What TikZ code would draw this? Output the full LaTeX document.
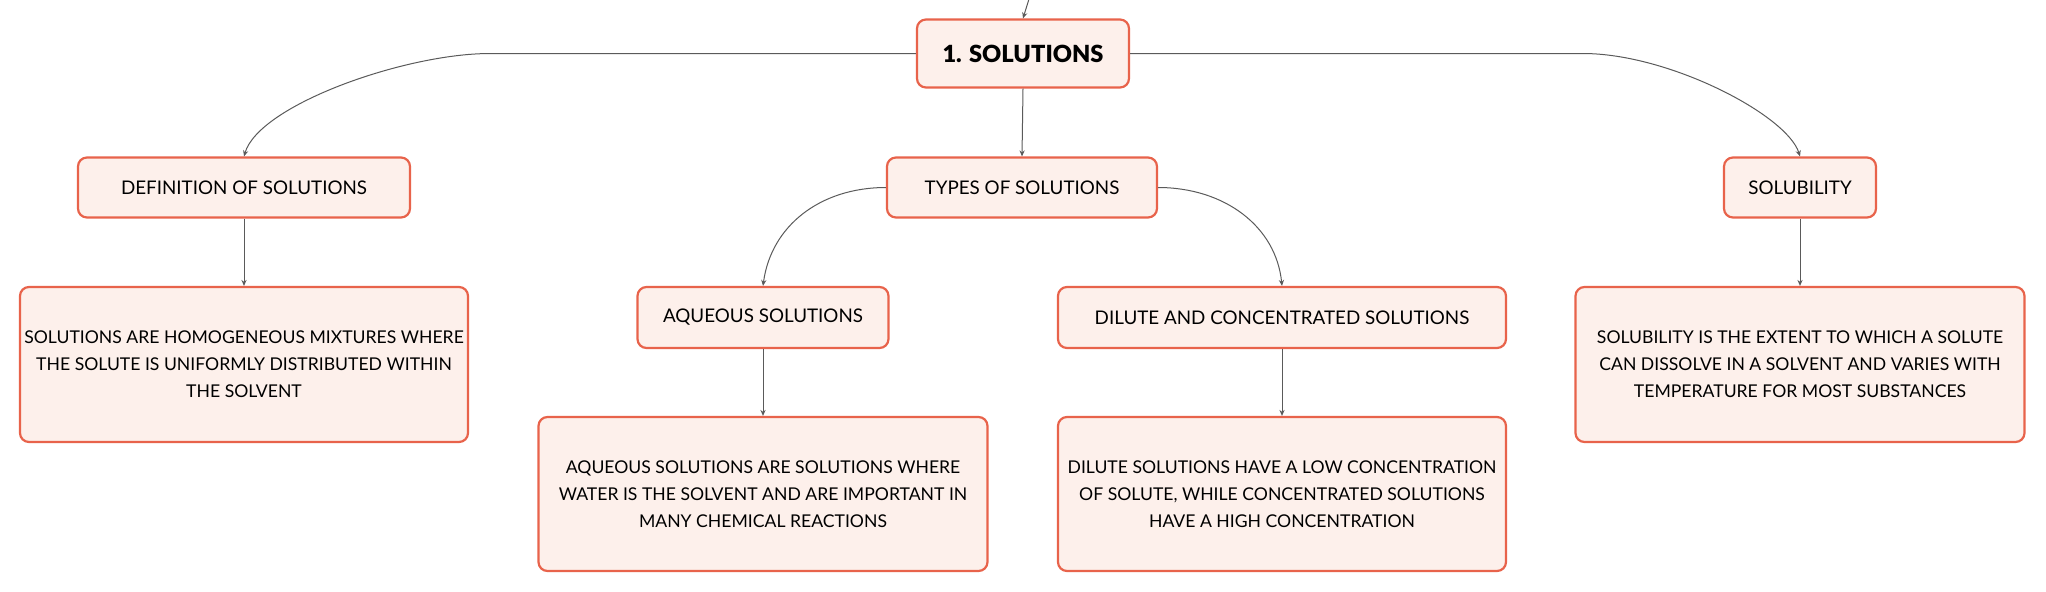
\documentclass[tikz,border=0pt]{standalone}
\usepackage{fontspec}
\setmainfont{Lato}
\newfontfamily\heavyfont{Lato Black}
\usetikzlibrary{arrows.meta}

\definecolor{boxline}{HTML}{E8634B}
\definecolor{boxfill}{HTML}{FDF0EB}
\definecolor{linkgray}{HTML}{5A5A5A}

\tikzset{
  box/.style={draw=boxline, fill=boxfill, line width=1.1pt, rounded corners=4.5pt,
    align=center, inner sep=0pt, font=\fontsize{9.4}{13.5}\selectfont},
  descbox/.style={box, font=\fontsize{8.8}{13.5}\selectfont},
  link/.style={draw=linkgray, line width=0.5pt, -{Stealth[length=3pt,width=2.6pt]}},
}

\begin{document}
\begin{tikzpicture}[x=0.5pt,y=-0.5pt]
    \useasboundingbox (0,0) rectangle (2046,591); % page frame

    % top level
    \node[box, minimum width=106pt, minimum height=34pt,
      font=\fontsize{11.8}{15}\heavyfont] (root) at (1023,53.5) {1. SOLUTIONS};
    \coordinate (up) at (1029,-1); % link from the parent above

    % second row
    \node[box, minimum width=166pt, minimum height=30pt] (defn) at (244,187.5) {DEFINITION OF SOLUTIONS};
    \node[box, minimum width=135pt, minimum height=30pt] (types) at (1022,187.5) {TYPES OF SOLUTIONS};
    \node[box, minimum width=76pt, minimum height=30pt] (solub) at (1800,187.5) {SOLUBILITY};

    % third row
    \node[descbox, minimum width=224pt, minimum height=77.5pt] (defndesc) at (244,364.5)
      {SOLUTIONS ARE HOMOGENEOUS MIXTURES WHERE\\THE SOLUTE IS UNIFORMLY DISTRIBUTED WITHIN\\THE SOLVENT};
    \node[box, minimum width=125.5pt, minimum height=30.5pt] (aq) at (763,317.5) {AQUEOUS SOLUTIONS};
    \node[box, minimum width=224pt, minimum height=30.5pt] (dil) at (1282,317.5) {DILUTE AND CONCENTRATED SOLUTIONS};
    \node[descbox, minimum width=224.5pt, minimum height=77.5pt] (solubdesc) at (1800,364.5)
      {SOLUBILITY IS THE EXTENT TO WHICH A SOLUTE\\CAN DISSOLVE IN A SOLVENT AND VARIES WITH\\TEMPERATURE FOR MOST SUBSTANCES};

    % fourth row
    \node[descbox, minimum width=224.5pt, minimum height=77pt] (aqdesc) at (763,494)
      {AQUEOUS SOLUTIONS ARE SOLUTIONS WHERE\\WATER IS THE SOLVENT AND ARE IMPORTANT IN\\MANY CHEMICAL REACTIONS};
    \node[descbox, minimum width=224pt, minimum height=77pt] (dildesc) at (1282,494)
      {DILUTE SOLUTIONS HAVE A LOW CONCENTRATION\\OF SOLUTE, WHILE CONCENTRATED SOLUTIONS\\HAVE A HIGH CONCENTRATION};

    % links
    \draw[link] (up) -- (root.north); % from parent
    \draw[link] (root.west) -- (490,53.5) .. controls (405,53.5) and (259,105) .. (defn.north); % left branch
    \draw[link] (root.east) -- (1583,53.5) .. controls (1669,53.5) and (1787,115) .. (solub.north); % right branch
    \draw[link] (root.south) -- (types.north);
    \draw[link] (types.west) .. controls (820,187.5) and (771,226) .. (aq.north);
    \draw[link] (types.east) .. controls (1224,187.5) and (1276,226) .. (dil.north);
    \draw[link] (defn.south) -- (defndesc.north);
    \draw[link] (aq.south) -- (aqdesc.north);
    \draw[link] (dil.south) -- (dildesc.north);
    \draw[link] (solub.south) -- (solubdesc.north);
\end{tikzpicture}
\end{document}
